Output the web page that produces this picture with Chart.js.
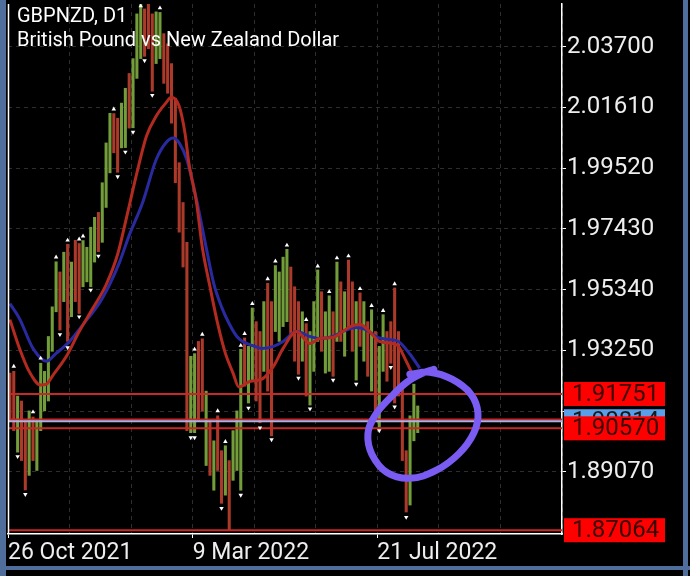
<!DOCTYPE html>
<html>
<head>
<meta charset="utf-8">
<script src="https://cdn.jsdelivr.net/npm/chart.js@4.4.0/dist/chart.umd.min.js"></script>
<style>
  html, body { margin: 0; padding: 0; background: #000; }
  canvas { display: block; }
</style>
</head>
<body>
<canvas id="chart" width="690" height="576"></canvas>
<script>
// x = trading days counted from 26 Oct 2021, each bar here covers 2 days
const barDays = [1,3,5,7,9,11,13,15,17,19,21,23,25,27,29,31,33,35,37,39,
  41,43,45,47,49,51,53,55,57,59,61,63,65,67,69,71,73,75,77,79,
  81,83,85,87,89,91,93,95,97,99,101,103,105,107,109,111,113,115,117,119,
  121,123,125,127,129,131,133,135,137,139,141,143,145,147,149,151,153,155,157,159,
  161,163,165,167,169,171,173,175,177,179,181,183,185,187,189,191,193,195,197,199,
  201,203,205,207,209,211,213];
const barHighs = [1.9247,1.9253,1.9168,1.9151,1.9083,1.9117,1.9096,1.9083,1.9281,1.9253,
  1.9373,1.9475,1.9630,1.9595,1.9663,1.9690,1.9629,1.9704,1.9693,1.9703,
  1.9680,1.9749,1.9783,1.9800,1.9902,2.0039,2.0141,2.0140,2.0124,2.0176,
  2.0227,2.0278,2.0329,2.0483,2.0551,2.0500,2.0534,2.0483,2.0490,2.0488,
  2.0415,2.0380,2.0312,2.0193,1.9971,1.9834,1.9697,1.9305,1.9314,1.9356,
  1.9365,1.9185,1.9083,1.9014,1.9100,1.8980,1.8997,1.8946,1.9049,1.9117,
  1.9329,1.9368,1.9339,1.9471,1.9424,1.9390,1.9493,1.9556,1.9493,1.9617,
  1.9595,1.9646,1.9673,1.9612,1.9544,1.9493,1.9458,1.9417,1.9390,1.9493,
  1.9602,1.9527,1.9458,1.9513,1.9458,1.9629,1.9561,1.9527,1.9636,1.9561,
  1.9493,1.9523,1.9493,1.9424,1.9465,1.9390,1.9339,1.9448,1.9390,1.9424,
  1.9540,1.9390,1.9202,1.8980,1.9100,1.9209,1.9134];
const barLows = [1.9083,1.9049,1.8975,1.8946,1.8845,1.8895,1.8946,1.8912,1.9049,1.9117,
  1.9151,1.9322,1.9458,1.9395,1.9493,1.9356,1.9441,1.9493,1.9452,1.9544,
  1.9561,1.9544,1.9629,1.9665,1.9697,1.9817,1.9936,2.0005,1.9938,2.0022,
  2.0023,2.0090,2.0091,2.0261,2.0329,2.0337,2.0363,2.0217,2.0312,2.0329,
  2.0244,2.0210,2.0107,1.9902,1.9732,1.9612,1.9049,1.9042,1.9042,1.9083,
  1.9117,1.8929,1.8895,1.8844,1.8912,1.8799,1.8827,1.8707,1.8878,1.8912,
  1.8844,1.9202,1.9144,1.9219,1.9151,1.9076,1.9253,1.9185,1.9031,1.9390,
  1.9356,1.9407,1.9424,1.9373,1.9288,1.9243,1.9288,1.9168,1.9137,1.9253,
  1.9356,1.9322,1.9247,1.9253,1.9236,1.9356,1.9356,1.9305,1.9407,1.9322,
  1.9223,1.9339,1.9288,1.9236,1.9185,1.9117,1.9062,1.9253,1.9219,1.9281,
  1.9144,1.9168,1.8946,1.8769,1.8793,1.9014,1.9042];
// 1 = bullish bar, 0 = bearish bar
const barUp = [0,0,1,0,0,1,0,1,1,1, 1,1,1,0,1,0,1,0,0,1,
  1,1,1,0,1,1,1,0,0,1, 1,0,1,1,1,0,0,0,1,1,
  0,0,0,0,0,0,0,1,1,0, 0,1,0,1,0,0,1,0,1,1,
  1,0,1,1,0,0,1,0,0,1, 1,1,1,0,0,0,1,0,1,1,
  1,0,1,1,0,1,0,1,0,0, 1,0,1,0,1,0,1,1,0,0,
  0,0,0,0,1,1,1];

// moving averages
const redMADays = [1,6,11,17,20,23,31,37,44,51,57,62,67,72,77,82,85,89,92,94,
  98,101,105,109,113,117,120,126,132,138,143,150,157,162,169,174,178,183,188,193,
  200,203,207,210];
const redMA = [1.9431,1.9332,1.9253,1.9206,1.9209,1.9236,1.9312,1.9390,1.9469,1.9551,
  1.9656,1.9793,1.9936,2.0063,2.0131,2.0176,2.0196,2.0165,2.0073,1.9971,
  1.9834,1.9680,1.9544,1.9417,1.9315,1.9247,1.9199,1.9219,1.9226,1.9270,
  1.9332,1.9390,1.9349,1.9366,1.9370,1.9390,1.9407,1.9414,1.9390,1.9356,
  1.9349,1.9339,1.9288,1.9247];
const blueMADays = [1,6,13,20,25,32,39,48,53,58,63,70,77,82,86,89,93,98,103,107,
  111,115,119,122,127,132,138,143,150,157,162,169,174,181,186,192,198,203,209,214];
const blueMA = [1.9486,1.9434,1.9332,1.9288,1.9315,1.9356,1.9414,1.9493,1.9554,1.9629,
  1.9721,1.9834,1.9981,2.0039,2.0056,2.0039,1.9981,1.9844,1.9680,1.9554,
  1.9475,1.9417,1.9373,1.9356,1.9342,1.9332,1.9339,1.9356,1.9390,1.9373,
  1.9366,1.9373,1.9390,1.9404,1.9397,1.9370,1.9363,1.9356,1.9312,1.9264];

// fractal arrows
const upFractalDays = [3,13,17,25,31,37,39,55,69,79,97,101,109,113,121,123,127,135,139,145,
  155,161,167,171,177,183,189,195,201];
const upFractalPrices = [1.9270,1.9113,1.9298,1.9646,1.9704,1.9708,1.9718,2.0155,2.0510,2.0503,
  1.9329,1.9380,1.9117,1.9011,1.9342,1.9383,1.9486,1.9571,1.9632,1.9687,
  1.9431,1.9615,1.9527,1.9643,1.9650,1.9537,1.9479,1.9462,1.9554];
const downFractalDays = [5,9,27,31,37,43,47,57,61,65,71,75,95,97,111,121,125,131,137,151,
  157,169,181,193,199,201,207];
const downFractalPrices = [1.8960,1.8830,1.9380,1.9335,1.9441,1.9533,1.9650,1.9923,2.0008,2.0076,
  2.0322,2.0203,1.9025,1.9025,1.8782,1.8827,1.9127,1.9059,1.9018,1.9230,
  1.9124,1.9223,1.9209,1.9049,1.9267,1.9131,1.8751];

// horizontal levels
const redLevels = [1.91751, 1.90870, 1.90570, 1.87064];
const bidLevel = 1.90814;
const levelLabels = ['1.91751', '1.90570', '1.87064'];
const levelLabelPrices = [1.91751, 1.90570, 1.87064];

// hand drawn circle
const circleDays = [208.9,219.3,230.8,240.6,244.3,242.2,234.4,222.5,208.9,197.0,189.2,187.1,190.7,198.5,207.4,216.7,221.4];
const circlePrices = [1.9243,1.9250,1.9226,1.9175,1.9110,1.9042,1.8970,1.8912,1.8885,1.8905,1.8967,1.9038,1.9100,1.9161,1.9216,1.9250,1.9260];

// axes
const yTicks = [2.0370, 2.0161, 1.9952, 1.9743, 1.9534, 1.9325, 1.9116, 1.8907];
const hiddenYTicks = [1.9116];
const gridDays = [0, 32, 64, 96, 128, 160, 192, 224, 256, 288];
const xTickDays = [0, 96, 192];
const xTickLabels = ['26 Oct 2021', '9 Mar 2022', '21 Jul 2022'];

Chart.defaults.font.family = 'Roboto';

const pts = (xs, ys) => xs.map((x, i) => ({x: x, y: ys[i]}));

const chartFrame = {
  id: 'chartFrame',
  beforeDraw(chart) {
    const c = chart.ctx;
    c.save();
    c.fillStyle = '#000';
    c.fillRect(0, 0, chart.width, chart.height);
    c.restore();
  },
  afterDraw(chart) {
    const c = chart.ctx, a = chart.chartArea;
    c.save();
    c.strokeStyle = '#ffffff';
    c.lineWidth = 1.5;
    c.beginPath();
    c.moveTo(a.left + 0.5, a.top);
    c.lineTo(a.left + 0.5, a.bottom);
    c.stroke();
    c.fillStyle = '#4f6e9c';
    c.fillRect(0, 0, 6, chart.height);
    c.fillRect(683, 0, 5, chart.height);
    c.fillRect(0, 566, chart.width, 4);
    // symbol title
    c.fillStyle = '#ffffff';
    c.font = '20px Roboto';
    c.textBaseline = 'alphabetic';
    c.fillText('GBPNZD, D1', 17, 22);
    c.fillText('British Pound vs New Zealand Dollar', 17, 46);
    c.restore();
  }
};

const priceLabels = {
  id: 'priceLabels',
  afterDraw(chart) {
    const c = chart.ctx, y = chart.scales.y;
    const boxX = 564, boxW = 101, boxH = 24;
    c.save();
    c.font = '24px Roboto';
    c.textBaseline = 'middle';
    let py = y.getPixelForValue(bidLevel);
    c.fillStyle = '#5aa0e8';
    c.fillRect(boxX, py - boxH / 2, boxW, boxH);
    c.fillStyle = '#1a1a1a';
    c.fillText(bidLevel.toFixed(5), boxX + 8, py + 1);
    levelLabelPrices.forEach((v, i) => {
      py = y.getPixelForValue(v);
      c.fillStyle = '#ff0000';
      c.fillRect(boxX, py - boxH / 2, boxW, boxH);
      c.fillStyle = '#3a0505';
      c.fillText(levelLabels[i], boxX + 8, py + 1);
    });
    c.restore();
  }
};

const datasets = [
  {
    type: 'line',
    data: pts(circleDays, circlePrices),
    borderColor: '#7b5cf2',
    borderWidth: 7,
    borderCapStyle: 'round',
    borderJoinStyle: 'round',
    tension: 0.4,
    pointRadius: 0,
    order: 0
  },
  {
    type: 'line',
    data: pts(upFractalDays, upFractalPrices),
    showLine: false,
    pointStyle: 'triangle',
    pointRadius: 2.6,
    backgroundColor: '#ffffff',
    borderColor: '#ffffff',
    borderWidth: 0,
    order: 1
  },
  {
    type: 'line',
    data: pts(downFractalDays, downFractalPrices),
    showLine: false,
    pointStyle: 'triangle',
    rotation: 180,
    pointRadius: 2.6,
    backgroundColor: '#ffffff',
    borderColor: '#ffffff',
    borderWidth: 0,
    order: 1
  },
  {
    type: 'line',
    data: pts(redMADays, redMA),
    borderColor: '#b32a20',
    borderWidth: 3,
    tension: 0.4,
    cubicInterpolationMode: 'monotone',
    pointRadius: 0,
    order: 2
  },
  {
    type: 'line',
    data: pts(blueMADays, blueMA),
    borderColor: '#2a2aa0',
    borderWidth: 3,
    tension: 0.4,
    cubicInterpolationMode: 'monotone',
    pointRadius: 0,
    order: 2
  },
  {
    type: 'bar',
    data: barDays.map((d, i) => ({x: d, y: [barLows[i], barHighs[i]]})),
    backgroundColor: barUp.map(u => u ? '#739c3a' : '#ab3a2b'),
    barThickness: 2.4,
    order: 4
  },
  {
    type: 'line',
    data: pts([gridDays[0], gridDays[gridDays.length - 1]], [bidLevel, bidLevel]),
    borderColor: '#b4aee6',
    borderWidth: 2,
    pointRadius: 0,
    order: 3
  }
];
redLevels.forEach(v => {
  datasets.push({
    type: 'line',
    data: pts([gridDays[0], gridDays[gridDays.length - 1]], [v, v]),
    borderColor: '#c62a26',
    borderWidth: 2,
    pointRadius: 0,
    order: 3
  });
});

new Chart(document.getElementById('chart'), {
  type: 'bar',
  data: { datasets: datasets },
  plugins: [chartFrame, priceLabels],
  options: {
    responsive: false,
    animation: false,
    devicePixelRatio: 1,
    layout: { padding: { left: 8, top: 0, right: 0, bottom: 0 } },
    plugins: { legend: { display: false }, tooltip: { enabled: false } },
    scales: {
      x: {
        type: 'linear',
        min: 0,
        max: 288,
        offset: false,
        afterBuildTicks: s => { s.ticks = gridDays.map(v => ({value: v})); },
        afterFit: s => { s.height = 42; s.paddingLeft = 0; s.paddingRight = 0; },
        grid: {
          offset: false,
          color: '#2e2e2e',
          lineWidth: 1,
          tickLength: 4,
          tickColor: ctx => (ctx.tick && xTickDays.includes(ctx.tick.value)) ? '#ffffff' : 'rgba(0,0,0,0)'
        },
        border: { display: true, color: '#ffffff', width: 1.5, dash: [4, 4] },
        ticks: {
          autoSkip: false,
          maxRotation: 0,
          align: 'start',
          padding: 1,
          color: '#eeeeee',
          font: { size: 23 },
          callback: v => {
            const i = xTickDays.indexOf(v);
            return i >= 0 ? xTickLabels[i] : '';
          }
        }
      },
      y: {
        position: 'right',
        min: 1.86934,
        max: 2.0517,
        afterBuildTicks: s => { s.ticks = yTicks.map(v => ({value: v})); },
        afterFit: s => { s.width = 128; s.paddingTop = 0; s.paddingBottom = 0; },
        grid: {
          color: '#2e2e2e',
          lineWidth: 1,
          tickLength: 4,
          tickColor: '#ffffff'
        },
        border: { display: true, color: '#ffffff', width: 1.5, dash: [4, 4] },
        ticks: {
          padding: 1,
          color: '#eeeeee',
          font: { size: 24 },
          callback: v => hiddenYTicks.includes(v) ? '' : v.toFixed(5)
        }
      }
    }
  }
});
</script>
</body>
</html>
